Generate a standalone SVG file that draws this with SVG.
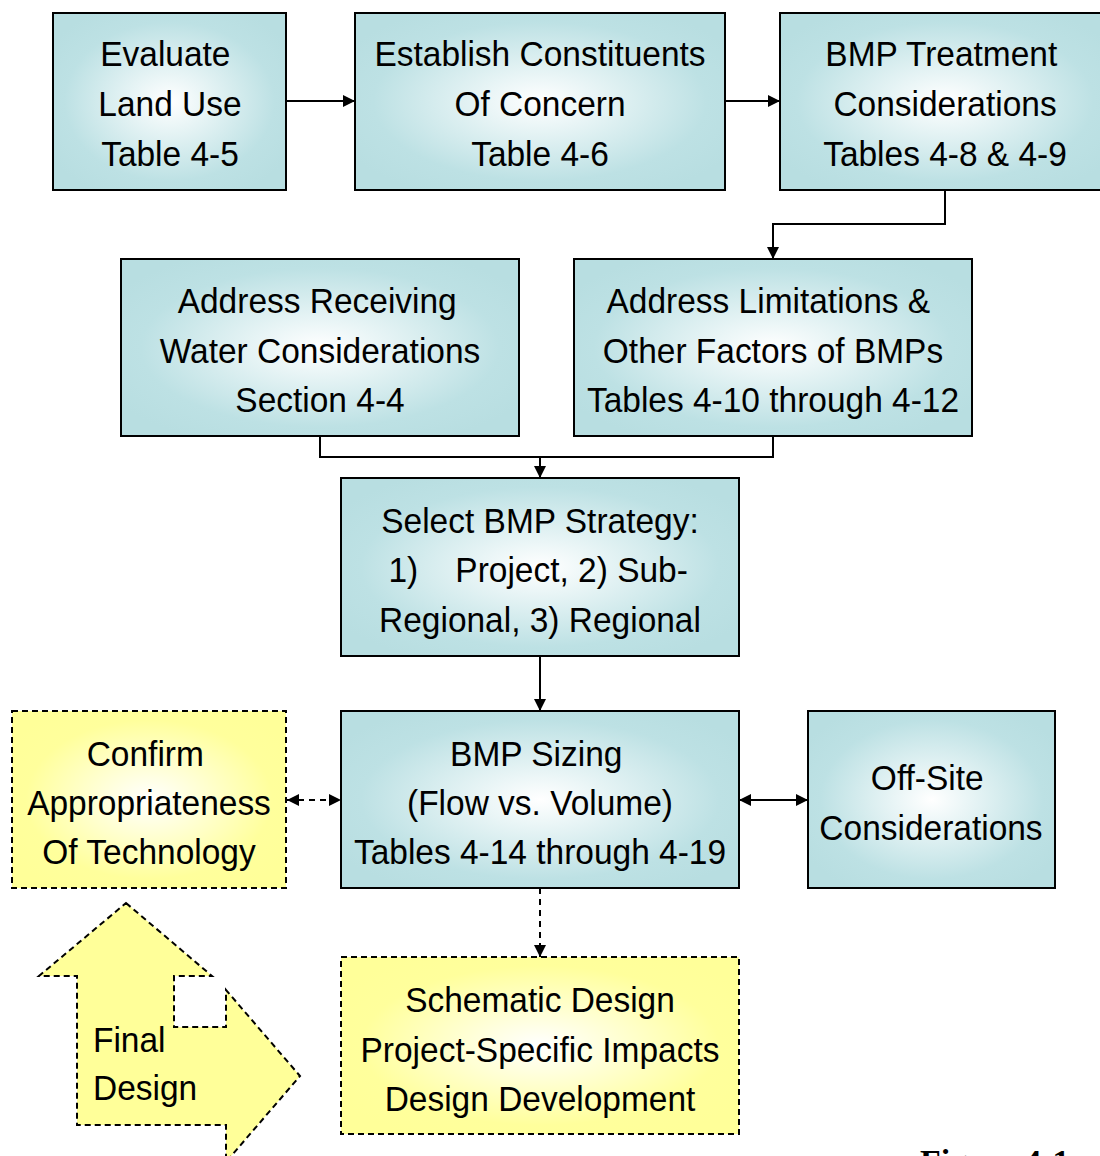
<svg xmlns="http://www.w3.org/2000/svg" width="1100" height="1156" viewBox="0 0 1100 1156">
<style>
.n{stroke:#000;stroke-width:2;fill:url(#gb)}
.y{stroke:#000;stroke-width:2;stroke-dasharray:6 4;fill:url(#gy)}
.t{font-family:"Liberation Sans",Arial,sans-serif;font-size:36px;fill:#000;text-anchor:middle;white-space:pre}
.c{stroke:#000;stroke-width:2;fill:none}
.d{stroke-dasharray:6 5}
</style>
<defs>
<radialGradient id="gb" cx="0.5" cy="0.5" r="0.6">
<stop offset="0" stop-color="#ffffff"/>
<stop offset="0.75" stop-color="#bde1e4"/>
<stop offset="1" stop-color="#b8dee1"/>
</radialGradient>
<radialGradient id="gy" cx="0.5" cy="0.5" r="0.6">
<stop offset="0" stop-color="#ffffff"/>
<stop offset="0.75" stop-color="#ffff9c"/>
<stop offset="1" stop-color="#ffff99"/>
</radialGradient>
<marker id="a" viewBox="0 0 12 12" refX="12" refY="6" markerWidth="12" markerHeight="12" markerUnits="userSpaceOnUse" orient="auto-start-reverse">
<path d="M0,0 L12,6 L0,12 Z" fill="#000"/>
</marker>
</defs>
<g id="connectors">
<line class="c" x1="286" y1="101" x2="355" y2="101" marker-end="url(#a)"/>
<line class="c" x1="725" y1="101" x2="780" y2="101" marker-end="url(#a)"/>
<polyline class="c" points="945,190 945,224 773,224 773,259" marker-end="url(#a)"/>
<polyline class="c" points="320,436 320,457 773,457 773,436"/>
<line class="c" x1="540" y1="457" x2="540" y2="478" marker-end="url(#a)"/>
<line class="c" x1="540" y1="656" x2="540" y2="711" marker-end="url(#a)"/>
<line class="c d" x1="287" y1="800" x2="341" y2="800" marker-start="url(#a)" marker-end="url(#a)"/>
<line class="c" x1="739" y1="800" x2="808" y2="800" marker-start="url(#a)" marker-end="url(#a)"/>
<line class="c d" x1="540" y1="888" x2="540" y2="957" marker-end="url(#a)"/>
</g>
<g id="n1"><rect class="n" x="53" y="13" width="233" height="177"/>
<g transform="translate(170 0) scale(0.93 1) translate(-170 0)"><text class="t" x="165" y="66">Evaluate</text><text class="t" x="170" y="116">Land Use</text><text class="t" x="170" y="166">Table 4-5</text></g></g>
<g id="n2"><rect class="n" x="355" y="13" width="370" height="177"/>
<g transform="translate(540 0) scale(0.93 1) translate(-540 0)"><text class="t" x="540" y="66">Establish Constituents</text><text class="t" x="540" y="116">Of Concern</text><text class="t" x="540" y="166">Table 4-6</text></g></g>
<g id="n3"><rect class="n" x="780" y="13" width="330" height="177"/>
<g transform="translate(945 0) scale(0.93 1) translate(-945 0)"><text class="t" x="941" y="66">BMP Treatment</text><text class="t" x="945" y="116">Considerations</text><text class="t" x="945" y="166">Tables 4-8 &amp; 4-9</text></g></g>
<g id="n4"><rect class="n" x="121" y="259" width="398" height="177"/>
<g transform="translate(320 0) scale(0.93 1) translate(-320 0)"><text class="t" x="317" y="313">Address Receiving</text><text class="t" x="320" y="363">Water Considerations</text><text class="t" x="320" y="412">Section 4-4</text></g></g>
<g id="n5"><rect class="n" x="574" y="259" width="398" height="177"/>
<g transform="translate(773 0) scale(0.93 1) translate(-773 0)"><text class="t" x="768" y="313">Address Limitations &amp;</text><text class="t" x="773" y="363">Other Factors of BMPs</text><text class="t" x="773" y="412">Tables 4-10 through 4-12</text></g></g>
<g id="n6"><rect class="n" x="341" y="478" width="398" height="178"/>
<g transform="translate(540 0) scale(0.93 1) translate(-540 0)"><text class="t" x="540" y="533">Select BMP Strategy:</text><text class="t" x="538" y="582">1)    Project, 2) Sub-</text><text class="t" x="540" y="632">Regional, 3) Regional</text></g></g>
<g id="n7"><rect class="n" x="341" y="711" width="398" height="177"/>
<g transform="translate(540 0) scale(0.93 1) translate(-540 0)"><text class="t" x="536" y="766">BMP Sizing</text><text class="t" x="540" y="815">(Flow vs. Volume)</text><text class="t" x="540" y="864">Tables 4-14 through 4-19</text></g></g>
<g id="n8"><rect class="n" x="808" y="711" width="247" height="177"/>
<g transform="translate(931 0) scale(0.93 1) translate(-931 0)"><text class="t" x="927" y="790">Off-Site</text><text class="t" x="931" y="840">Considerations</text></g></g>
<g id="n9"><rect class="y" x="12" y="711" width="274" height="177"/>
<g transform="translate(149 0) scale(0.93 1) translate(-149 0)"><text class="t" x="145" y="766">Confirm</text><text class="t" x="149" y="815">Appropriateness</text><text class="t" x="149" y="864">Of Technology</text></g></g>
<g id="n10"><rect class="y" x="341" y="957" width="398" height="177"/>
<g transform="translate(540 0) scale(0.93 1) translate(-540 0)"><text class="t" x="540" y="1012">Schematic Design</text><text class="t" x="540" y="1062">Project-Specific Impacts</text><text class="t" x="540" y="1111">Design Development</text></g></g>
<g id="final">
<path d="M126,903 L212,976 L174,976 L174,1027 L226,1027 L226,990 L300,1076 L226,1162 L226,1125 L77,1125 L77,976 L39,976 Z" fill="#ffff99" stroke="#000" stroke-width="2" stroke-dasharray="6 4"/>
<g transform="translate(93 0) scale(0.93 1) translate(-93 0)"><text class="t" x="93" y="1052" style="text-anchor:start">Final</text><text class="t" x="93" y="1100" style="text-anchor:start">Design</text></g>
</g>
<text x="920" y="1173" font-family="Liberation Serif,serif" font-size="34" font-weight="bold" fill="#000">Figure 4-1</text>
</svg>
